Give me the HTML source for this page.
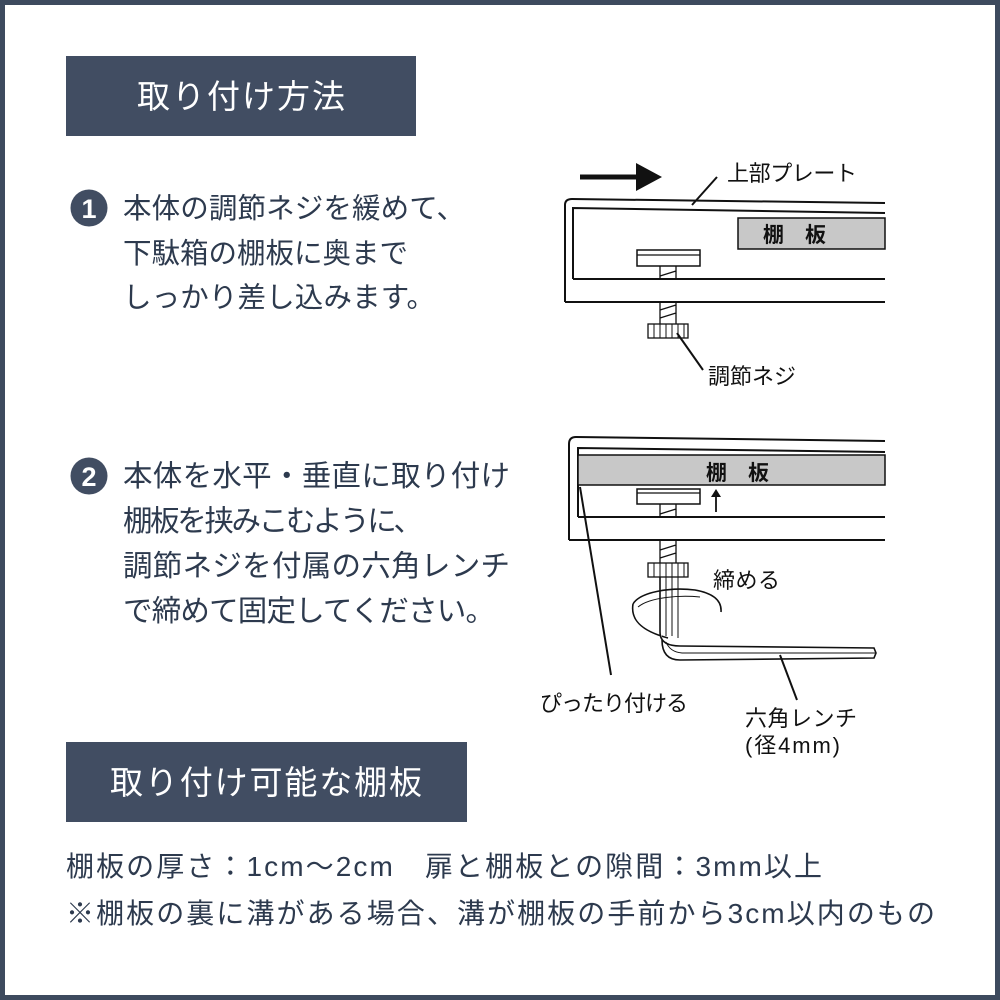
<!DOCTYPE html>
<html><head><meta charset="utf-8"><style>
html,body{margin:0;padding:0;background:#fff}
svg{display:block}
.t{font-family:"Liberation Sans","Noto Sans CJK JP",sans-serif;fill:#2d3a4e}
.d{font-family:"Liberation Sans","Noto Sans CJK JP",sans-serif;fill:#111}
</style></head><body>
<svg width="1000" height="1000" viewBox="0 0 1000 1000" xmlns="http://www.w3.org/2000/svg">
<rect x="2.5" y="2.5" width="995" height="995" fill="#fff" stroke="#3d4a5e" stroke-width="5"/>
<rect x="66" y="56" width="350" height="80" fill="#414d62"/>
<text x="241" y="108" text-anchor="middle" font-size="33" fill="#fff" font-family="Liberation Sans,Noto Sans CJK JP,sans-serif" textLength="208">取り付け方法</text>
<rect x="66" y="742" width="401" height="80" fill="#414d62"/>
<text x="266" y="794" text-anchor="middle" font-size="33" fill="#fff" font-family="Liberation Sans,Noto Sans CJK JP,sans-serif" textLength="312">取り付け可能な棚板</text>
<circle cx="89" cy="208" r="18.5" fill="#414d62"/>
<text x="89" y="218" text-anchor="middle" font-size="27" font-weight="bold" fill="#fff" font-family="Liberation Sans,sans-serif">1</text>
<g class="t" font-size="28.5">
<text x="123" y="218" textLength="342">本体の調節ネジを緩めて、</text>
<text x="123" y="263" textLength="285">下駄箱の棚板に奥まで</text>
<text x="123" y="307" textLength="312">しっかり差し込みます。</text>
</g>
<circle cx="89" cy="476" r="18.5" fill="#414d62"/>
<text x="89" y="486" text-anchor="middle" font-size="27" font-weight="bold" fill="#fff" font-family="Liberation Sans,sans-serif">2</text>
<g class="t" font-size="29.5">
<text x="123" y="486" textLength="387">本体を水平・垂直に取り付け</text>
<text x="123" y="531" textLength="300">棚板を挟みこむように、</text>
<text x="123" y="576" textLength="387">調節ネジを付属の六角レンチ</text>
<text x="123" y="621" textLength="372">で締めて固定してください。</text>
</g>
<g class="t" font-size="28">
<text x="66" y="876" textLength="756">棚板の厚さ：1cm～2cm　扉と棚板との隙間：3mm以上</text>
<text x="66" y="923" textLength="869">※棚板の裏に溝がある場合、溝が棚板の手前から3cm以内のもの</text>
</g>
<g stroke="#111" stroke-width="2" fill="none">
<line x1="580" y1="177" x2="640" y2="177" stroke-width="5"/>
<path d="M565 302 V205 Q565 199 572 199 L885 203"/>
<path d="M573 279 V208 L885 213"/>
<line x1="573" y1="279" x2="885" y2="279"/>
<line x1="565" y1="302" x2="885" y2="302"/>
<rect x="738" y="218" width="147" height="31" fill="#c8c8c8" stroke-width="1.5"/>
<rect x="637" y="250" width="63" height="16" fill="#fff" stroke-width="1.5"/>
<line x1="637" y1="255" x2="700" y2="255" stroke-width="1.2"/>
<path d="M660 266 V279 M676 266 V279 M660 276 L676 271 M660 302 V325 M676 302 V325 M660 310 L676 305 M660 318 L676 313" stroke-width="1.3"/>
<rect x="648" y="324" width="40" height="14" fill="#fff" stroke-width="1.3"/>
<path d="M654 324V338 M660 324V338 M666 324V338 M672 324V338 M678 324V338 M684 324V338" stroke-width="1"/>
<line x1="692" y1="205" x2="717" y2="177"/>
<line x1="677" y1="333" x2="703" y2="370"/>
</g>
<polygon points="636,163 662,177 636,191" fill="#111"/>
<text class="d" x="727" y="181" font-size="22" textLength="130">上部プレート</text>
<text class="d" x="763" y="242" font-size="21" font-weight="bold">棚　板</text>
<text class="d" x="708" y="384" font-size="22" textLength="88">調節ネジ</text>
<g stroke="#111" stroke-width="2" fill="none">
<path d="M569 540 V444 Q569 437 576 437 L885 441"/>
<path d="M578 517 V448 L885 452"/>
<rect x="578" y="455" width="307" height="30" fill="#c8c8c8" stroke-width="1.5"/>
<line x1="578" y1="517" x2="885" y2="517"/>
<line x1="569" y1="540" x2="885" y2="540"/>
<rect x="637" y="489" width="63" height="15" fill="#fff" stroke-width="1.5"/>
<line x1="637" y1="493" x2="700" y2="493" stroke-width="1.2"/>
<path d="M660 504 V517 M676 504 V517 M660 514 L676 509 M660 540 V563 M676 540 V563 M660 550 L676 545 M660 558 L676 553" stroke-width="1.3"/>
<rect x="648" y="563" width="40" height="14" fill="#fff" stroke-width="1.3"/>
<path d="M654 563V577 M660 563V577 M666 563V577 M672 563V577 M678 563V577 M684 563V577" stroke-width="1"/>
<line x1="716" y1="512" x2="716" y2="494" stroke-width="1.8"/>
<path d="M633 604 C640 592 670 587 695 590 C712 593 722 600 721 612" stroke-width="1.6"/>
<path d="M633 604 C630 622 645 632 668 638" stroke-width="1.6"/>
<path d="M638 607 C650 597 680 595 700 597" stroke-width="1"/>
<path d="M660 577 V632 Q660 646 680 646 L874 648 L876 653 L874 658 L680 660 Q662 660 662 640" fill="#fff" stroke-width="1.6"/>
<path d="M666 577 V636 M672 577 V636 M678 577 V638" stroke-width="1"/>
<path d="M666 642 Q670 652 682 653 L875 653" stroke-width="1"/>
<line x1="580" y1="487" x2="611" y2="675"/>
<line x1="780" y1="655" x2="797" y2="700"/>
</g>
<polygon points="711,497 716,489 721,497" fill="#111"/>
<text class="d" x="706" y="480" font-size="21" font-weight="bold">棚　板</text>
<text class="d" x="713" y="588" font-size="22" textLength="67">締める</text>
<text class="d" x="540" y="711" font-size="22" textLength="148">ぴったり付ける</text>
<text class="d" x="745" y="726" font-size="22" textLength="112">六角レンチ</text>
<text class="d" x="745" y="753" font-size="22" textLength="95">(径4mm)</text>
</svg>
</body></html>
